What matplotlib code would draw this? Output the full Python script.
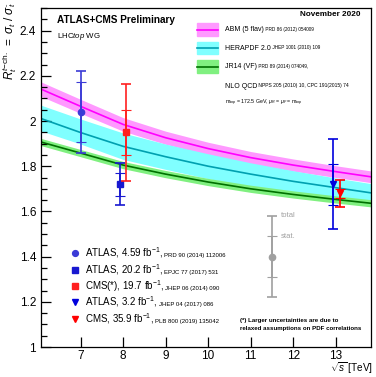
import matplotlib.pyplot as plt
from matplotlib.patches import Rectangle

plt.rcParams['font.family'] = ['Liberation Sans', 'DejaVu Sans']
plt.rcParams['mathtext.fontset'] = 'custom'
plt.rcParams['mathtext.rm'] = 'Liberation Sans'
plt.rcParams['mathtext.it'] = 'Liberation Sans:italic'
plt.rcParams['mathtext.bf'] = 'Liberation Sans:bold'

# theory predictions
sqrts_th = [6.07, 7, 8, 9, 10, 11, 12, 13, 13.83]
abm = [2.141, 2.065, 1.985, 1.926, 1.878, 1.838, 1.805, 1.776, 1.753]
abm_err = [0.032, 0.031, 0.030, 0.029, 0.028, 0.027, 0.027, 0.026, 0.026]
hera = [2.011, 1.949, 1.888, 1.842, 1.800, 1.765, 1.733, 1.705, 1.682]
hera_up = [2.070, 2.009, 1.947, 1.898, 1.855, 1.815, 1.780, 1.748, 1.723]
hera_dn = [1.956, 1.898, 1.830, 1.786, 1.745, 1.710, 1.680, 1.650, 1.621]
jr14 = [1.907, 1.858, 1.805, 1.765, 1.730, 1.700, 1.675, 1.653, 1.636]
jr14_err = [0.016, 0.016, 0.016, 0.016, 0.016, 0.016, 0.016, 0.016, 0.016]

# measurements
meas_x = [7.0, 7.92, 8.07, 12.93, 13.09]
meas_r = [2.04, 1.72, 1.95, 1.72, 1.68]
meas_tot = [0.183, 0.092, 0.214, 0.20, 0.06]
meas_stat = [0.132, 0.052, 0.10, 0.09, 0.02]
meas_name = ['ATLAS, 4.59 fb$^{-1}$, ', 'ATLAS, 20.2 fb$^{-1}$, ', 'CMS(*), 19.7 fb$^{-1}$, ',
             'ATLAS, 3.2 fb$^{-1}$, ', 'CMS, 35.9 fb$^{-1}$, ']
meas_ref = ['PRD 90 (2014) 112006', 'EPJC 77 (2017) 531', 'JHEP 06 (2014) 090',
            'JHEP 04 (2017) 086', 'PLB 800 (2019) 135042']
meas_marker = ['o', 's', 's', 'v', 'v']
meas_color = ['#3b3bd6', '#1818d0', '#ff2020', '#0000dd', '#ff0000']

# example point for the total/stat. key
key_x, key_r, key_tot, key_stat = 11.5, 1.40, 0.18, 0.09

W, H = 376, 377
fig = plt.figure(figsize=(W / 100, H / 100), dpi=100)
ax = fig.add_axes([41 / W, 30 / H, 330 / W, 339 / H])


def fx(px):
    return px / W


def fy(py):
    return 1 - py / H


ax.fill_between(sqrts_th, [a - e for a, e in zip(abm, abm_err)], [a + e for a, e in zip(abm, abm_err)],
                color='#ff99ff', lw=0)
ax.plot(sqrts_th, abm, color='#ff00ff', lw=1.2)
ax.fill_between(sqrts_th, hera_dn, hera_up, color='#80ffff', lw=0)
ax.plot(sqrts_th, hera, color='#00a0b0', lw=1.2)
ax.fill_between(sqrts_th, [a - e for a, e in zip(jr14, jr14_err)], [a + e for a, e in zip(jr14, jr14_err)],
                color='#80f080', lw=0)
ax.plot(sqrts_th, jr14, color='#007000', lw=1.2)

for x, r, t, s, m, c in zip(meas_x, meas_r, meas_tot, meas_stat, meas_marker, meas_color):
    ax.errorbar(x, r, yerr=t, fmt='none', ecolor=c, elinewidth=1.2, capsize=3.6, capthick=1.2)
    ax.errorbar(x, r, yerr=s, fmt='none', ecolor=c, elinewidth=1.2, capsize=3.6, capthick=0.8)
    ax.plot(x, r, marker=m, color=c, ms=4.5, mec=c, ls='none')

ax.errorbar(key_x, key_r, yerr=key_tot, fmt='none', ecolor='#a0a0a0', elinewidth=1.2, capsize=3.6, capthick=1.2)
ax.errorbar(key_x, key_r, yerr=key_stat, fmt='none', ecolor='#a0a0a0', elinewidth=1.2, capsize=3.6, capthick=0.8)
ax.plot(key_x, key_r, 'o', color='#a0a0a0', ms=4.5)
ax.text(key_x + 0.22, key_r + key_tot, 'total', color='#a0a0a0', fontsize=5.5, va='center')
ax.text(key_x + 0.22, key_r + key_stat, 'stat.', color='#a0a0a0', fontsize=5.5, va='center')

ax.set_xlim(6.07, 13.83)
ax.set_ylim(1.0, 2.5)
ax.set_xticks([7, 8, 9, 10, 11, 12, 13])
ax.set_yticks([1.0, 1.2, 1.4, 1.6, 1.8, 2.0, 2.2, 2.4])
ax.set_yticklabels(['1', '1.2', '1.4', '1.6', '1.8', '2', '2.2', '2.4'])
ax.set_yticks([1.0 + 0.05 * i for i in range(31)], minor=True)
ax.tick_params(direction='in', length=7, width=0.9, labelsize=8.5, pad=3.5)
ax.tick_params(axis='x', pad=2.3)
ax.tick_params(axis='y', which='minor', direction='in', length=4, width=0.9)
for sp in ax.spines.values():
    sp.set_linewidth(0.9)

fig.text(fx(10), fy(2), r'$R_{t}^{t\mathrm{-ch.}}\ =\ \sigma_{t}\ /\ \sigma_{\bar{t}}$', rotation=90,
         ha='center', va='top', fontsize=8.5)
fig.text(fx(373), fy(376.5), r'$\sqrt{s}$ [TeV]', ha='right', va='bottom', fontsize=7.2)

fig.text(fx(57), fy(20), 'ATLAS+CMS Preliminary', fontweight='bold', fontsize=7.2, va='center')
fig.text(fx(57), fy(37), r'LHC$\it{top}$ WG', fontsize=5.7, va='center')
fig.text(fx(360), fy(15), 'November 2020', fontweight='bold', fontsize=5.9, ha='right', va='center')

# theory legend
th_rows = [
    (29.5, '#ff99ff', '#ff00ff', 'ABM (5 flav)', ' PRD 86 (2012) 054009'),
    (48, '#80ffff', '#00a0b0', 'HERAPDF 2.0', ' JHEP 1001 (2010) 109'),
    (66.5, '#80f080', '#007000', 'JR14 (VF)', ' PRD 89 (2014) 074049,'),
]
for py, band, line, name, ref in th_rows:
    fig.patches.append(Rectangle((fx(197), fy(py + 6)), 21 / W, 12 / H, color=band, transform=fig.transFigure))
    fig.lines.append(plt.Line2D([fx(197), fx(218)], [fy(py), fy(py)], color=line, lw=1.2,
                                transform=fig.transFigure))
    t = fig.text(fx(225), fy(py), name, fontsize=5.0, va='center')
    ax.annotate(ref, xy=(1, 0.15), xycoords=t, fontsize=3.4, va='bottom', annotation_clip=False)

t = fig.text(fx(225), fy(86), 'NLO QCD', fontsize=5.0, va='center')
ax.annotate(' NPPS 205 (2010) 10, CPC 191(2015) 74', xy=(1, 0.15), xycoords=t, fontsize=3.6, va='bottom',
            annotation_clip=False)
fig.text(fx(225), fy(103), r'm$_{top}$ = 172.5 GeV, $\mu_R$ = $\mu_F$ = m$_{top}$', fontsize=3.8, va='center')

# measurement legend
legend_y = [253, 270, 286, 302, 319]
for py, name, ref, m, c in zip(legend_y, meas_name, meas_ref, meas_marker, meas_color):
    fig.lines.append(plt.Line2D([fx(75)], [fy(py)], marker=m, color=c, ms=4.2, ls='none',
                                transform=fig.transFigure))
    t = fig.text(fx(85), fy(py), name, fontsize=7.0, va='center')
    ax.annotate(ref, xy=(1, 0.18), xycoords=t, fontsize=4.3, va='bottom', annotation_clip=False)

fig.text(fx(240), fy(324.5), '(*) Larger uncertainties are due to\nrelaxed assumptions on PDF correlations',
         fontsize=4.4, fontweight='bold', va='center', linespacing=1.6)

fig.savefig('out.png', dpi=100)
